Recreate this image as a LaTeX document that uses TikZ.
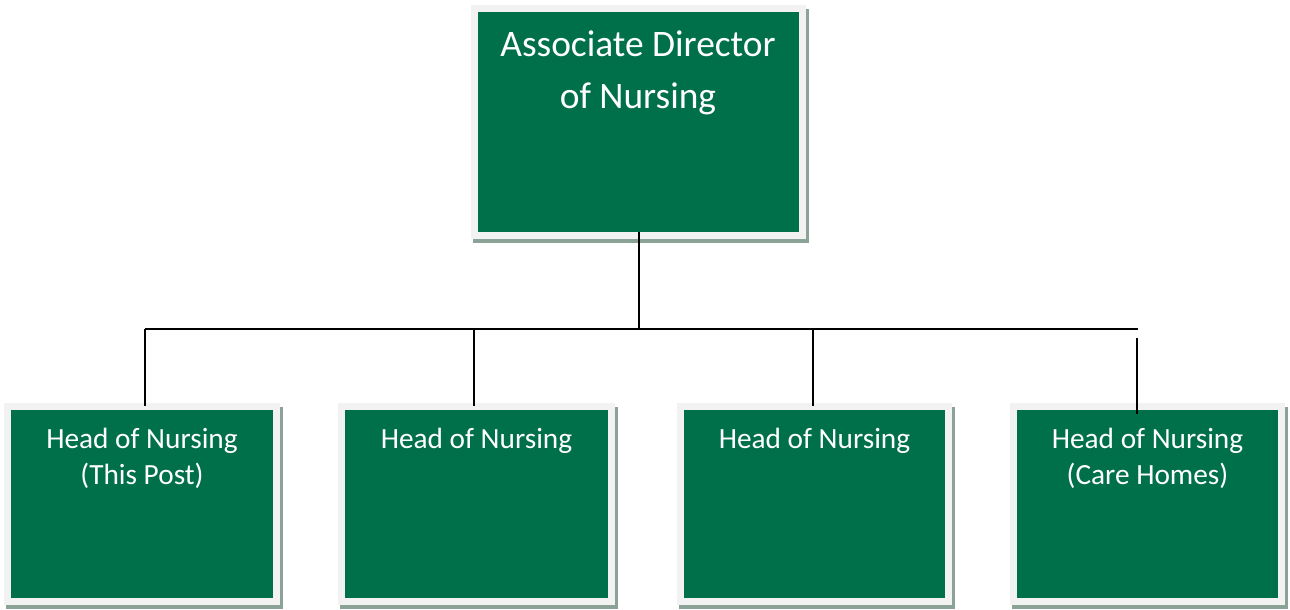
\documentclass[tikz,border=0pt]{standalone}
\usepackage{fontspec}
\setmainfont{Carlito}
\definecolor{boxgreen}{RGB}{0,112,74}
\definecolor{framegray}{RGB}{242,242,242}
\definecolor{shadowgray}{RGB}{138,163,150}
\tikzset{
  greenbox/.style={fill=boxgreen, draw=none, inner sep=0pt, anchor=north west},
  toptext/.style={text=white, anchor=base, inner sep=0pt, font=\fontsize{37.4}{51}\selectfont},
  subtext/.style={text=white, anchor=base, inner sep=0pt, font=\fontsize{29.3}{36}\selectfont},
  wire/.style={draw=black, line width=1.7pt}
}
% #1 name, #2 x1, #3 y1, #4 x2, #5 y2 (green area, pixel coords)
\newcommand{\orgcard}[5]{%
  \fill[shadowgray] (#2-5,#3-3) rectangle (#4+10,#5+11);
  \fill[framegray] (#2-7,#3-7) rectangle (#4+7,#5+7);
  \node[greenbox, minimum width=#4-#2, minimum height=#5-#3] (#1) at (#2,#3) {};
}
\begin{document}
\begin{tikzpicture}[x=1pt,y=-1pt]
\useasboundingbox (0,0) rectangle (1290,610);
\orgcard{top}{478}{12}{799}{232}
\orgcard{b1}{11}{410}{273}{598}
\orgcard{b2}{345}{410}{608}{598}
\orgcard{b3}{684}{410}{945}{598}
\orgcard{b4}{1017}{410}{1278}{598}

\node[toptext] (t1) at (638,57) {Associate Director};
\node[toptext] (t2) at (638,108) {of Nursing};

\node[subtext] (h1a) at (142,448) {Head of Nursing};
\node[subtext] (h1b) at (142,484) {(This Post)};
\node[subtext] (h2a) at (476.5,448) {Head of Nursing};
\node[subtext] (h3a) at (814.5,448) {Head of Nursing};
\node[subtext] (h4a) at (1147.5,448) {Head of Nursing};
\node[subtext] (h4b) at (1147.5,484) {(Care Homes)};

\coordinate (busL) at (145,329);
\coordinate (busR) at (1138,329);
\coordinate (d1) at (145,406);
\coordinate (d2) at (474,329);
\coordinate (e2) at (474,406);
\coordinate (d3) at (813,329);
\coordinate (e3) at (813,406);
\coordinate (d4) at (1137,338);
\coordinate (e4) at (1137,414);

\draw[wire] (top.south) -- (top.south |- busL);
\draw[wire] (busL) -- (busR);
\draw[wire] (busL) -- (d1);
\draw[wire] (d2) -- (e2);
\draw[wire] (d3) -- (e3);
\draw[wire] (d4) -- (e4);
\end{tikzpicture}
\end{document}
